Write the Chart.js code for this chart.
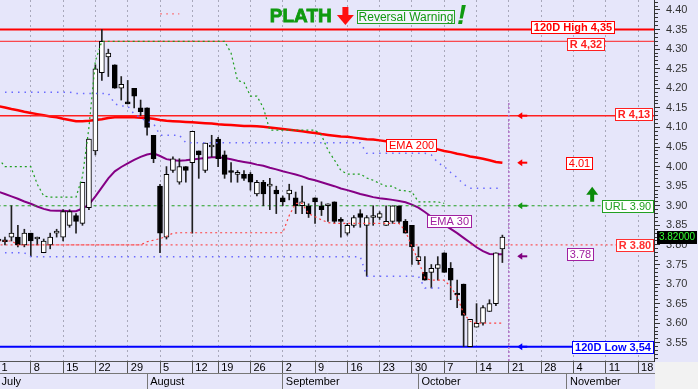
<!DOCTYPE html>
<html>
<head>
<meta charset="utf-8">
<script src="https://cdn.jsdelivr.net/npm/chart.js@4.4.0/dist/chart.umd.min.js"></script>
<style>
  html, body { margin: 0; padding: 0; background: #e6e6fa; }
</style>
</head>
<body>
<canvas id="plathChart" width="698" height="389"></canvas>
<script>
// x = trading-day index, 0 = 1 July. Future days continue to ~20 November.
const mondayIdx = [0, 5, 10, 15, 20, 25, 30, 34, 39, 44, 49, 54, 59, 64, 69, 74, 79, 84, 89, 94, 99];
const mondayLabels = ['1', '8', '15', '22', '29', '5', '12', '19', '26', '2', '9', '16', '23', '30', '7', '14', '21', '28', '4', '11', '18'];
const monthIdx = [0, 23, 44, 65, 88];
const monthLabels = ['July', 'August', 'September', 'October', 'November'];

const opens = [3.81, 3.812, 3.82, 3.82, 3.80, 3.83, 3.815, 3.78, 3.80, 3.83,
  3.82, 3.85, 3.875, 3.855, 3.895, 4.04, 4.24, 4.28, 4.26, 4.20,
  4.163, 4.20, 4.15, 4.15, 4.08, 3.95, 3.82, 3.99, 3.96, 4.00,
  4.01, 4.04, 3.99, 4.05, 4.07, 4.03, 3.99, 3.98, 3.98, 3.98,
  3.93, 3.96, 3.95, 3.94, 3.92, 3.93, 3.92, 3.90, 3.90, 3.92,
  3.90, 3.90, 3.91, 3.865, 3.83, 3.85, 3.88, 3.85, 3.87, 3.87,
  3.85, 3.86, 3.90, 3.86, 3.85, 3.76, 3.73, 3.73, 3.74, 3.78,
  3.74, 3.675, 3.70, 3.54, 3.59, 3.60, 3.63, 3.65, 3.79];
const highs = [3.82, 3.82, 3.90, 3.85, 3.84, 3.83, 3.82, 3.815, 3.83, 3.84,
  3.89, 3.89, 3.88, 3.96, 4.07, 4.26, 4.35, 4.30, 4.26, 4.23,
  4.22, 4.20, 4.17, 4.15, 4.08, 3.955, 4.00, 4.025, 4.02, 4.00,
  4.09, 4.04, 4.06, 4.08, 4.075, 4.04, 4.01, 3.99, 3.99, 3.985,
  3.965, 3.965, 3.97, 3.95, 3.925, 3.955, 3.935, 3.95, 3.905, 3.92,
  3.91, 3.905, 3.91, 3.87, 3.855, 3.875, 3.89, 3.875, 3.90, 3.885,
  3.90, 3.90, 3.90, 3.865, 3.85, 3.795, 3.77, 3.75, 3.77, 3.78,
  3.755, 3.71, 3.70, 3.61, 3.65, 3.645, 3.66, 3.78, 3.825];
const lows = [3.80, 3.80, 3.81, 3.795, 3.795, 3.77, 3.80, 3.78, 3.79, 3.82,
  3.81, 3.845, 3.83, 3.85, 3.89, 4.03, 4.22, 4.23, 4.20, 4.17,
  4.16, 4.15, 4.13, 4.08, 4.01, 3.78, 3.815, 3.985, 3.955, 3.96,
  3.83, 3.97, 3.985, 4.025, 4.00, 3.97, 3.96, 3.96, 3.965, 3.94,
  3.925, 3.90, 3.89, 3.88, 3.90, 3.915, 3.88, 3.88, 3.87, 3.855,
  3.875, 3.86, 3.855, 3.82, 3.825, 3.845, 3.845, 3.72, 3.85, 3.865,
  3.85, 3.855, 3.855, 3.83, 3.75, 3.75, 3.71, 3.69, 3.71, 3.73,
  3.66, 3.64, 3.54, 3.54, 3.59, 3.595, 3.63, 3.645, 3.755];
const closes = [3.815, 3.808, 3.83, 3.80, 3.83, 3.81, 3.82, 3.81, 3.82, 3.832,
  3.885, 3.885, 3.86, 3.96, 4.07, 4.25, 4.32, 4.29, 4.20, 4.21,
  4.16, 4.18, 4.14, 4.10, 4.02, 3.83, 3.98, 4.02, 4.00, 3.99,
  4.09, 4.03, 4.06, 4.052, 4.02, 3.98, 3.985, 3.982, 3.97, 3.96,
  3.96, 3.93, 3.952, 3.93, 3.91, 3.94, 3.90, 3.91, 3.88, 3.91,
  3.89, 3.902, 3.86, 3.86, 3.85, 3.87, 3.87, 3.87, 3.872, 3.88,
  3.86, 3.90, 3.86, 3.83, 3.795, 3.77, 3.71, 3.74, 3.75, 3.73,
  3.71, 3.672, 3.62, 3.61, 3.60, 3.64, 3.65, 3.78, 3.82];

const ema30 = [3.936, 3.930, 3.924, 3.918, 3.911, 3.905, 3.898, 3.892, 3.888, 3.887,
  3.887, 3.886, 3.886, 3.893, 3.903, 3.924, 3.947, 3.970, 3.988, 3.999,
  4.008, 4.017, 4.025, 4.031, 4.034, 4.027, 4.019, 4.016, 4.015, 4.016,
  4.018, 4.020, 4.022, 4.024, 4.024, 4.022, 4.019, 4.015, 4.012, 4.009,
  4.005, 4.002, 3.997, 3.993, 3.988, 3.984, 3.980, 3.975, 3.969, 3.965,
  3.960, 3.955, 3.950, 3.944, 3.940, 3.935, 3.930, 3.926, 3.922, 3.919,
  3.917, 3.915, 3.912, 3.909, 3.903, 3.895, 3.884, 3.872, 3.862, 3.851,
  3.841, 3.830, 3.818, 3.806, 3.794, 3.784, 3.777, 3.776, 3.776];
const ema200 = [4.154, 4.151, 4.147, 4.144, 4.140, 4.137, 4.134, 4.131, 4.128, 4.126,
  4.122, 4.119, 4.116, 4.116, 4.117, 4.119, 4.121, 4.124, 4.126, 4.126,
  4.126, 4.126, 4.125, 4.124, 4.122, 4.119, 4.117, 4.116, 4.115, 4.114,
  4.113, 4.112, 4.111, 4.110, 4.108, 4.107, 4.106, 4.105, 4.104, 4.104,
  4.103, 4.102, 4.100, 4.098, 4.096, 4.094, 4.092, 4.090, 4.088, 4.086,
  4.083, 4.081, 4.079, 4.077, 4.076, 4.074, 4.072, 4.070, 4.069, 4.067,
  4.065, 4.064, 4.061, 4.058, 4.055, 4.052, 4.049, 4.047, 4.044, 4.040,
  4.037, 4.033, 4.030, 4.026, 4.023, 4.020, 4.016, 4.012, 4.010];

// trailing stops and swing levels (dotted step lines)
const greenStop = [4.02, 4.00, 4.00, 4.00, 4.00, 4.00, 3.955, 3.925, 3.922, 3.922,
  3.922, 3.922, 3.922, 3.975, 4.10, 4.27, 4.32, 4.32, 4.32, 4.32,
  4.32, 4.32, 4.32, 4.32, 4.32, 4.32, 4.32, 4.32, 4.32, 4.32,
  4.32, 4.32, 4.32, 4.32, 4.32, 4.32, 4.29, 4.22, 4.215, 4.18,
  4.18, 4.15, 4.093, 4.093, 4.093, 4.093, 4.093, 4.093, 4.093, 4.093,
  4.08, 4.042, 4.017, 3.99, 3.981, 3.981, 3.981, 3.971, 3.965, 3.957,
  3.95, 3.95, 3.94, 3.938, 3.935, 3.91, 3.91, 3.91, 3.91, 3.906];
const redStop = [3.81, 3.81, 3.81, 3.80, 3.80, 3.80, 3.80, 3.80, 3.80, 3.80,
  3.80, 3.80, 3.80, 3.80, 3.80, 3.80, 3.80, 3.80, 3.80, 3.80,
  3.80, 3.80, 3.80, 3.808, 3.812, 3.816, 3.822, 3.83, 3.831, 3.831,
  3.831, 3.831, 3.831, 3.831, 3.831, 3.831, 3.831, 3.831, 3.831, 3.831,
  3.831, 3.831, 3.831, 3.831, 3.831, 3.875, 3.906, 3.906, 3.88, 3.872,
  3.864, 3.857, 3.855, 3.855, 3.855, 3.855, 3.855, 3.855, 3.855, 3.855,
  3.855, 3.855, 3.855, 3.835, 3.795, 3.76, 3.715, 3.71, 3.71, 3.71,
  3.693, 3.668, 3.625, 3.605, 3.60, 3.60, 3.60, 3.60, 3.60];
const redHighDays = [25, 26, 27, 28];
const redHigh = [4.39, 4.39, 4.39, 4.39];
const blueUpper = [4.19, 4.19, 4.19, 4.19, 4.19, 4.19, 4.19, 4.19, 4.19, 4.19,
  4.19, 4.19, 4.187, 4.187, 4.187, 4.187, 4.187, 4.187, 4.16, 4.155,
  4.155, 4.134, 4.125, 4.115, 4.11, 4.08, 4.08, 4.08, 4.08, 4.061,
  4.061, 4.061, 4.061, 4.061, 4.061, 4.061, 4.061, 4.061, 4.061, 4.061,
  4.061, 4.061, 4.061, 4.061, 4.061, 4.061, 4.061, 4.061, 4.061, 4.061,
  4.061, 4.061, 4.061, 4.061, 4.061, 4.061, 4.061, 4.034, 4.034, 4.034,
  4.034, 4.034, 4.034, 4.034, 4.034, 4.034, 4.034, 4.03, 4.01, 4.00,
  3.985, 3.972, 3.955, 3.945, 3.945, 3.945, 3.945, 3.945, 3.945];
const blueLower = [3.78, 3.78, 3.78, 3.78, 3.78, 3.77, 3.77, 3.77, 3.77, 3.77,
  3.77, 3.77, 3.77, 3.77, 3.77, 3.77, 3.77, 3.77, 3.77, 3.77,
  3.77, 3.77, 3.77, 3.77, 3.77, 3.77, 3.77, 3.77, 3.77, 3.77,
  3.77, 3.77, 3.77, 3.77, 3.77, 3.77, 3.77, 3.77, 3.77, 3.77,
  3.77, 3.77, 3.77, 3.77, 3.77, 3.77, 3.77, 3.77, 3.77, 3.77,
  3.77, 3.77, 3.77, 3.77, 3.77, 3.77, 3.77, 3.72, 3.72, 3.72,
  3.72, 3.72, 3.72, 3.72, 3.72, 3.72, 3.69, 3.69, 3.69, 3.69];

const levelValues = [4.35, 4.32, 4.13, 3.90, 3.80, 3.54];
const levelLabels = ['120D High 4,35', 'R 4,32', 'R 4,13', 'URL 3.90', 'R 3.80', '120D Low 3,54'];
const lastPrice = 3.82;
const todayIdx = 79;
const headerSymbol = 'PLATH';
const headerSignal = 'Reversal Warning';

const FONT = '"Liberation Sans", Arial, sans-serif';
Chart.defaults.font.family = FONT;

const levelStyle = [
  {color: '#ff0000', width: 2, dash: [], at: 88.8, right: false, shift: -3, bold: true},
  {color: '#ff2020', width: 1, dash: [], at: 90.9, right: false, shift: 3, bold: true},
  {color: '#ff2020', width: 1.5, dash: [], at: 101.2, right: true, shift: -2, bold: true},
  {color: '#22a022', width: 1, dash: [3, 3], at: 101.3, right: true, shift: 0, bold: false},
  {color: '#ff3030', width: 1, dash: [2, 3], at: 101.3, right: true, shift: 0, bold: true},
  {color: '#0000ff', width: 2, dash: [], at: 101.3, right: true, shift: 0, bold: true}
];

const pts = (arr, start = 0) => arr.map((v, i) => ({x: i + start, y: v}));

function tag(ctx, text, cx, cy, color, bold, right) {
  ctx.font = (bold ? 'bold ' : '') + '11px ' + FONT;
  const w = Math.round(ctx.measureText(text).width) + 5;
  const h = 12;
  const left = Math.round(right ? cx - w : cx - w / 2) + 0.5;
  const top = Math.round(cy - h / 2) + 0.5;
  ctx.fillStyle = '#ffffff';
  ctx.fillRect(left, top, w, h);
  ctx.strokeStyle = color;
  ctx.lineWidth = 1;
  ctx.strokeRect(left, top, w, h);
  ctx.fillStyle = color;
  ctx.textAlign = 'center';
  ctx.textBaseline = 'middle';
  ctx.fillText(text, left + w / 2, top + h / 2 + 0.5);
}

function leftArrow(ctx, xTip, y, color) {
  ctx.fillStyle = color;
  ctx.beginPath();
  ctx.moveTo(xTip, y);
  ctx.lineTo(xTip + 5, y - 3.5);
  ctx.lineTo(xTip + 5, y + 3.5);
  ctx.closePath();
  ctx.fill();
  ctx.fillRect(xTip + 4, y - 1, 6, 2);
}

const decorations = {
  id: 'decorations',
  beforeDraw(chart) {
    const {ctx, width, height, chartArea: a} = chart;
    ctx.save();
    ctx.fillStyle = '#e6e6fa';
    ctx.fillRect(0, 0, width, height);
    ctx.fillStyle = '#f2f2f2';
    ctx.fillRect(a.right + 1, a.bottom + 1, width - a.right, height - a.bottom);
    ctx.restore();
  },
  afterDraw(chart) {
    const {ctx, chartArea: a} = chart;
    const X = (i) => chart.scales.x.getPixelForValue(i);
    const Y = (v) => chart.scales.y.getPixelForValue(v);
    const last = opens.length - 1;
    ctx.save();

    // level tags on the right
    levelValues.forEach((v, k) => {
      const s = levelStyle[k];
      tag(ctx, levelLabels[k], X(s.at), Y(v) + s.shift, s.color, s.bold, s.right);
    });
    tag(ctx, 'EMA 200', X(63.8), Y(4.054), '#ff0000', false, false);
    tag(ctx, 'EMA 30', X(69.7), Y(3.862), '#a020a0', false, false);
    tag(ctx, ema200[last].toFixed(2), X(89.9), Y(ema200[last]), '#ff0000', false, false);
    tag(ctx, ema30[last].toFixed(2), X(90.0), Y(ema30[last]), '#a020a0', false, false);

    // small arrows right of today
    const tip = X(80.3);
    leftArrow(ctx, tip, Y(levelValues[2]), '#ff0000');
    leftArrow(ctx, tip, Y(ema200[last]), '#ff0000');
    leftArrow(ctx, tip, Y(levelValues[3]), '#159a15');
    leftArrow(ctx, tip, Y(ema30[last]) + 2, '#800080');
    leftArrow(ctx, tip, Y(levelValues[5]), '#0000ff');

    // green up arrow above the URL line
    const ux = X(91.9), uy = Y(levelValues[3]) - 19;
    ctx.fillStyle = '#0a8a0a';
    ctx.beginPath();
    ctx.moveTo(ux, uy);
    ctx.lineTo(ux - 6, uy + 8);
    ctx.lineTo(ux + 6, uy + 8);
    ctx.closePath();
    ctx.fill();
    ctx.fillRect(ux - 2, uy + 7, 4, 8);

    // header: symbol, red down arrow, signal box, exclamation
    const top = a.top;
    ctx.fillStyle = '#109a10';
    ctx.strokeStyle = '#109a10';
    ctx.lineWidth = 0.8;
    ctx.font = 'bold 19px ' + FONT;
    ctx.textAlign = 'left';
    ctx.textBaseline = 'alphabetic';
    ctx.fillText(headerSymbol, X(42.0), top + 22);
    ctx.strokeText(headerSymbol, X(42.0), top + 22);

    const dx = X(53.7);
    ctx.fillStyle = '#ff1010';
    ctx.fillRect(dx - 3, top + 7, 6, 9);
    ctx.beginPath();
    ctx.moveTo(dx - 8.5, top + 15);
    ctx.lineTo(dx + 8.5, top + 15);
    ctx.lineTo(dx, top + 25);
    ctx.closePath();
    ctx.fill();

    const bx = Math.round(X(55.5)) + 0.5;
    ctx.fillStyle = 'rgba(255,255,255,0.55)';
    ctx.fillRect(bx, top + 10.5, 97, 13);
    ctx.strokeStyle = '#22a022';
    ctx.lineWidth = 1;
    ctx.strokeRect(bx, top + 10.5, 97, 13);
    ctx.fillStyle = '#119911';
    ctx.font = '12px ' + FONT;
    ctx.textAlign = 'center';
    ctx.textBaseline = 'middle';
    ctx.fillText(headerSignal, bx + 48.5, top + 17.5);

    ctx.font = 'italic bold 28px ' + FONT;
    ctx.fillStyle = '#109a10';
    ctx.textBaseline = 'alphabetic';
    ctx.fillText('!', X(71.7), top + 24);

    // last price box on the axis
    const py = Y(lastPrice);
    ctx.fillStyle = '#000000';
    ctx.fillRect(a.right + 3, Math.round(py - 6.5), 40, 13);
    ctx.fillStyle = '#33ff33';
    ctx.font = '10px ' + FONT;
    ctx.textAlign = 'center';
    ctx.textBaseline = 'middle';
    ctx.fillText(lastPrice.toFixed(5), a.right + 23, py + 0.5);

    ctx.restore();
  }
};

const wickData = opens.map((o, i) => ({x: i, y: [lows[i], highs[i]]}));
const bodyData = opens.map((o, i) => ({x: i, y: [o, closes[i]]}));
const bodyFill = opens.map((o, i) => closes[i] >= o ? '#ffffff' : '#000000');

const stepLine = (data, color, dash, width) => ({
  type: 'line', data, borderColor: color, borderWidth: width, borderDash: dash,
  pointRadius: 0, tension: 0, fill: false, order: 1
});

const datasets = [
  {type: 'line', data: pts(ema200), borderColor: '#ff0000', borderWidth: 2.5, pointRadius: 0, tension: 0, order: 6},
  {type: 'line', data: pts(ema30), borderColor: '#850085', borderWidth: 2, pointRadius: 0, tension: 0, order: 6},
  {type: 'bar', data: wickData, backgroundColor: '#202020', barThickness: 1, grouped: false, order: 3},
  {type: 'bar', data: bodyData, backgroundColor: bodyFill, borderColor: '#000000', borderWidth: 1,
    borderSkipped: false, barThickness: 5, minBarLength: 2, grouped: false, order: 2},
  stepLine(pts(greenStop), '#1f9f1f', [2, 3], 1.2),
  stepLine(pts(redStop), '#ff4040', [2, 3], 1.2),
  stepLine(redHighDays.map((d, k) => ({x: d, y: redHigh[k]})), '#ff6060', [2, 4], 1),
  stepLine(pts(blueUpper), '#6a6aff', [1.5, 5], 1.5),
  stepLine(pts(blueLower), '#6a6aff', [1.5, 5], 1.5),
  {type: 'line', data: [{x: todayIdx, y: 4.1625}, {x: todayIdx, y: 3.40}], borderColor: '#b070c8',
    borderWidth: 1.5, borderDash: [2, 2], pointRadius: 0, order: 1}
];
levelValues.forEach((v, k) => {
  const s = levelStyle[k];
  datasets.push({type: 'line', data: [{x: -2, y: v}, {x: 110, y: v}], borderColor: s.color,
    borderWidth: s.width, borderDash: s.dash, pointRadius: 0, order: 5});
});

const isMajor = (v) => Math.round(v * 100) % 5 === 0;

new Chart(document.getElementById('plathChart'), {
  type: 'line',
  data: {datasets},
  options: {
    responsive: false,
    animation: false,
    devicePixelRatio: 1,
    events: [],
    layout: {padding: 0},
    plugins: {legend: {display: false}, tooltip: {enabled: false}},
    scales: {
      x: {
        type: 'linear', position: 'bottom', weight: 0, min: 0.232, max: 101.47,
        bounds: 'data', offset: false,
        afterBuildTicks: (s) => { s.ticks = mondayIdx.map(v => ({value: v})); },
        afterFit: (s) => { s.height = 12; s.paddingLeft = 0; s.paddingRight = 0; },
        ticks: {
          autoSkip: false, maxRotation: 0, minRotation: 0, align: 'start', padding: -12,
          color: '#000', font: {size: 11},
          callback: (v, k) => ' ' + mondayLabels[k]
        },
        grid: {offset: false, color: '#a8a8ba', lineWidth: 1, tickLength: 12, tickColor: '#555', tickWidth: 1},
        border: {display: true, color: '#555', width: 1, dash: [2, 3]}
      },
      x2: {
        type: 'linear', position: 'bottom', weight: 1, min: 0.232, max: 101.47,
        bounds: 'data', offset: false,
        afterBuildTicks: (s) => { s.ticks = monthIdx.map(v => ({value: v})); },
        afterFit: (s) => { s.height = 16; s.paddingLeft = 0; s.paddingRight = 0; },
        ticks: {
          autoSkip: false, maxRotation: 0, minRotation: 0, align: 'start', padding: -14,
          color: '#000', font: {size: 11},
          callback: (v, k) => ' ' + monthLabels[k]
        },
        grid: {offset: false, drawOnChartArea: false, tickLength: 16, tickColor: '#777', tickWidth: 1},
        border: {display: true, color: '#777', width: 1}
      },
      y: {
        type: 'linear', position: 'right', min: 3.5035, max: 4.4255, bounds: 'data',
        afterBuildTicks: (s) => {
          const t = [];
          for (let k = 351; k <= 442; k++) t.push({value: k / 100});
          s.ticks = t;
        },
        afterFit: (s) => { s.width = 44; s.paddingTop = 0; s.paddingBottom = 0; },
        ticks: {
          autoSkip: false, padding: 6, color: '#333', font: {size: 11},
          callback: (v) => (isMajor(v) && v >= 3.55 && v <= 4.40) ? v.toFixed(2) : ''
        },
        grid: {
          drawOnChartArea: false, tickLength: 6, tickColor: '#333', tickWidth: 1,
          tickBorderDash: (c) => (c.tick && isMajor(c.tick.value)) ? [] : [3, 20]
        },
        border: {display: true, color: '#333', width: 1}
      }
    }
  },
  plugins: [decorations]
});
</script>
</body>
</html>
